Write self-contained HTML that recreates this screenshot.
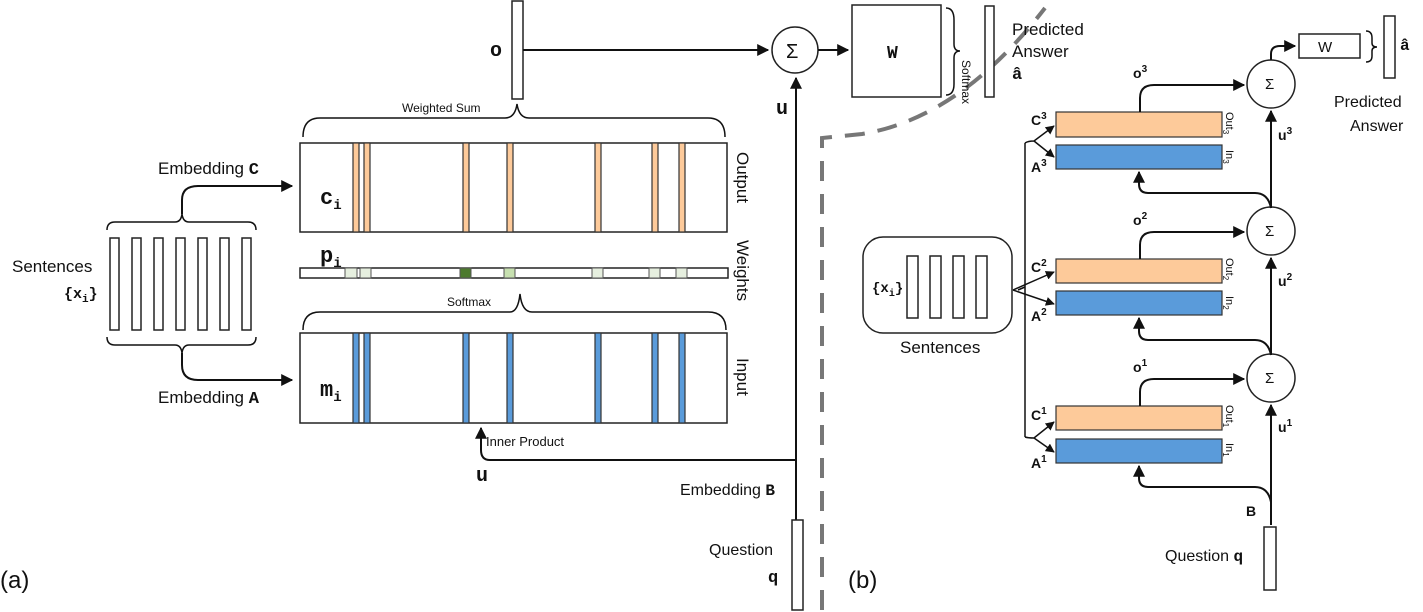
<!DOCTYPE html>
<html><head><meta charset="utf-8"><style>
html,body{margin:0;padding:0;background:#fff;}
svg{display:block;}
text{font-family:"Liberation Sans",sans-serif;fill:#111;}
.m{font-family:"Liberation Mono",monospace;font-weight:bold;}
.s{fill:none;stroke:#111;stroke-width:2;}
.b{fill:#fff;stroke:#222;stroke-width:1.5;}
.or{fill:#FDCA9A;stroke:#333;stroke-width:1.2;}
.bl{fill:#5A9BDA;stroke:#333;stroke-width:1.2;}
</style></head><body>
<svg width="1423" height="612" viewBox="0 0 1423 612" xmlns="http://www.w3.org/2000/svg">
<defs><marker id="ar" viewBox="0 0 10 10" refX="9" refY="5" markerWidth="6" markerHeight="6" orient="auto"><path d="M0,0 L10,5 L0,10 z" fill="#111"/></marker></defs>

<!-- dashed divider -->
<path d="M822,610 L822,138 L862,134 Q960,118 1045,8" fill="none" stroke="#777" stroke-width="4" stroke-dasharray="20,13"/>

<!-- (a) top -->
<rect class="b" x="512" y="1" width="11" height="98"/>
<text x="490" y="56" class="m" font-size="20">o</text>
<line class="s" x1="523" y1="50" x2="768" y2="50" marker-end="url(#ar)"/>
<circle class="b" cx="795" cy="50" r="23"/>
<text x="786" y="58" font-size="20" font-family="Liberation Serif">Σ</text>
<line class="s" x1="818" y1="50" x2="848" y2="50" marker-end="url(#ar)"/>
<rect class="b" x="852" y="5" width="89" height="92"/>
<text x="887" y="58" class="m" font-size="18">W</text>
<path class="s" style="stroke-width:1.5" d="M946,8 Q954,8 954,20 L954,44 Q954,51 960,51 Q954,51 954,58 L954,84 Q954,95 946,95"/>
<text transform="translate(962,60) rotate(90)" font-size="12">Softmax</text>
<rect class="b" x="985" y="6" width="9" height="91"/>
<text x="1012" y="35" font-size="17">Predicted</text>
<text x="1012" y="57" font-size="17">Answer</text>
<text x="1012" y="79" class="m" font-size="17">â</text>
<line class="s" x1="796" y1="610" x2="796" y2="78" marker-end="url(#ar)"/>
<text x="776" y="114" class="m" font-size="20">u</text>

<!-- weighted sum brace -->
<path class="s" style="stroke-width:1.5" d="M303,137 Q303,118 320,118 L505,118 Q515,118 517,104 Q519,118 529,118 L708,118 Q725,118 725,137"/>
<text x="402" y="112" font-size="12">Weighted Sum</text>

<!-- output box -->
<rect class="b" x="300" y="143" width="427" height="89"/>
<g class="or">
<rect x="353" y="143" width="6" height="89"/><rect x="364" y="143" width="6" height="89"/>
<rect x="463" y="143" width="6" height="89"/><rect x="507" y="143" width="6" height="89"/>
<rect x="595" y="143" width="6" height="89"/><rect x="652" y="143" width="6" height="89"/>
<rect x="679" y="143" width="6" height="89"/>
</g>
<text x="320" y="204" class="m" font-size="22">c<tspan font-size="14" dy="5">i</tspan></text>

<!-- weights -->
<rect class="b" x="300" y="268" width="428" height="10"/>
<g stroke="#555" stroke-width="1">
<rect x="345" y="268" width="12" height="10" fill="#e6efdf"/><rect x="360" y="268" width="11" height="10" fill="#e6efdf"/>
<rect x="460" y="268" width="11" height="10" fill="#4d7a2e"/><rect x="504" y="268" width="11" height="10" fill="#c7e0b0"/>
<rect x="592" y="268" width="11" height="10" fill="#e6efdf"/><rect x="649" y="268" width="11" height="10" fill="#e6efdf"/>
<rect x="676" y="268" width="11" height="10" fill="#e6efdf"/>
</g>
<text x="320" y="262" class="m" font-size="22">p<tspan font-size="14" dy="5">i</tspan></text>

<!-- softmax brace -->
<path class="s" style="stroke-width:1.5" d="M303,330 Q303,312 320,312 L510,312 Q518,312 520,294 Q522,312 532,312 L708,312 Q726,312 726,330"/>
<text x="447" y="306" font-size="12">Softmax</text>

<!-- input box -->
<rect class="b" x="300" y="333" width="427" height="90"/>
<g class="bl">
<rect x="353" y="333" width="6" height="90"/><rect x="364" y="333" width="6" height="90"/>
<rect x="463" y="333" width="6" height="90"/><rect x="507" y="333" width="6" height="90"/>
<rect x="595" y="333" width="6" height="90"/><rect x="652" y="333" width="6" height="90"/>
<rect x="679" y="333" width="6" height="90"/>
</g>
<text x="320" y="396" class="m" font-size="22">m<tspan font-size="14" dy="5">i</tspan></text>

<text transform="translate(737,152) rotate(90)" font-size="17">Output</text>
<text transform="translate(737,240) rotate(90)" font-size="17">Weights</text>
<text transform="translate(737,358) rotate(90)" font-size="17">Input</text>

<!-- inner product -->
<path class="s" d="M796,460 L490,460 Q481,460 481,450 L481,428" marker-end="url(#ar)"/>
<text x="486" y="446" font-size="13">Inner Product</text>
<text x="476" y="481" class="m" font-size="20">u</text>
<text x="680" y="495" font-size="16">Embedding <tspan class="m">B</tspan></text>
<rect class="b" x="792" y="520" width="11" height="90"/>
<text x="709" y="555" font-size="16">Question</text>
<text x="768" y="582" class="m" font-size="17">q</text>

<!-- sentences (a) -->
<g class="b">
<rect x="110" y="238" width="9" height="92"/><rect x="132" y="238" width="9" height="92"/>
<rect x="154" y="238" width="9" height="92"/><rect x="176" y="238" width="9" height="92"/>
<rect x="198" y="238" width="9" height="92"/><rect x="220" y="238" width="9" height="92"/>
<rect x="242" y="238" width="9" height="92"/>
</g>
<text x="12" y="272" font-size="17">Sentences</text>
<text x="64" y="298" class="m" font-size="15">{x<tspan font-size="11" dy="4">i</tspan><tspan dy="-4">}</tspan></text>
<path class="s" style="stroke-width:1.5" d="M107,230 Q107,222 115,222 L175,222 Q181,222 182,214 Q183,222 189,222 L248,222 Q256,222 256,230"/>
<path class="s" d="M182,214 L182,200 Q182,186 198,186 L292,186" marker-end="url(#ar)"/>
<text x="158" y="174" font-size="17">Embedding <tspan class="m">C</tspan></text>
<path class="s" style="stroke-width:1.5" d="M107,337 Q107,345 115,345 L175,345 Q181,345 182,353 Q183,345 189,345 L248,345 Q256,345 256,337"/>
<path class="s" d="M182,353 L182,365 Q182,380 198,380 L292,380" marker-end="url(#ar)"/>
<text x="158" y="403" font-size="17">Embedding <tspan class="m">A</tspan></text>

<text x="0" y="588" font-size="24">(a)</text>
<text x="848" y="588" font-size="24">(b)</text>

<!-- (b) -->
<rect x="863" y="237" width="149" height="96" rx="20" fill="#fff" stroke="#222" stroke-width="1.5"/>
<text x="872" y="292" class="m" font-size="14">{x<tspan font-size="10" dy="4">i</tspan><tspan dy="-4">}</tspan></text>
<g class="b">
<rect x="907" y="256" width="11" height="62"/><rect x="930" y="256" width="11" height="62"/>
<rect x="953" y="256" width="11" height="62"/><rect x="976" y="256" width="11" height="62"/>
</g>
<text x="900" y="353" font-size="17">Sentences</text>

<!-- trunk lines -->
<path class="s" style="stroke-width:1.5" d="M1025,143 L1025,437"/>
<path class="s" style="stroke-width:1.5" d="M1018,290 L1025,287"/>
<!-- layer forks -->
<g class="s" style="stroke-width:1.5">
<path d="M1025,143 Q1028,141 1034,141 L1054,126" marker-end="url(#ar)"/><path d="M1034,141 L1054,157" marker-end="url(#ar)"/>
<path d="M1013,290 L1054,272" marker-end="url(#ar)"/><path d="M1013,290 L1054,304" marker-end="url(#ar)"/>
<path d="M1025,437 Q1028,438 1034,438 L1054,422" marker-end="url(#ar)"/><path d="M1034,438 L1054,452" marker-end="url(#ar)"/>
</g>

<rect class="or" x="1056" y="112" width="166" height="25"/>
<rect class="bl" x="1056" y="145" width="166" height="24"/>
<rect class="or" x="1056" y="259" width="166" height="24"/>
<rect class="bl" x="1056" y="291" width="166" height="24"/>
<rect class="or" x="1056" y="406" width="166" height="24"/>
<rect class="bl" x="1056" y="439" width="166" height="24"/>

<g font-size="11">
<text transform="translate(1226,112) rotate(90)">Out<tspan font-size="8" dy="3">3</tspan></text>
<text transform="translate(1226,150) rotate(90)">In<tspan font-size="8" dy="3">3</tspan></text>
<text transform="translate(1226,258) rotate(90)">Out<tspan font-size="8" dy="3">2</tspan></text>
<text transform="translate(1226,296) rotate(90)">In<tspan font-size="8" dy="3">2</tspan></text>
<text transform="translate(1226,405) rotate(90)">Out<tspan font-size="8" dy="3">1</tspan></text>
<text transform="translate(1226,443) rotate(90)">In<tspan font-size="8" dy="3">1</tspan></text>
</g>
<g class="m" font-size="14">
<text x="1031" y="125">C<tspan font-size="10" dy="-6">3</tspan></text>
<text x="1031" y="172">A<tspan font-size="10" dy="-6">3</tspan></text>
<text x="1031" y="272">C<tspan font-size="10" dy="-6">2</tspan></text>
<text x="1031" y="321">A<tspan font-size="10" dy="-6">2</tspan></text>
<text x="1031" y="420">C<tspan font-size="10" dy="-6">1</tspan></text>
<text x="1031" y="468">A<tspan font-size="10" dy="-6">1</tspan></text>
<text x="1133" y="78">o<tspan font-size="10" dy="-6">3</tspan></text>
<text x="1133" y="225">o<tspan font-size="10" dy="-6">2</tspan></text>
<text x="1133" y="372">o<tspan font-size="10" dy="-6">1</tspan></text>
<text x="1278" y="140">u<tspan font-size="10" dy="-6">3</tspan></text>
<text x="1278" y="286">u<tspan font-size="10" dy="-6">2</tspan></text>
<text x="1278" y="432">u<tspan font-size="10" dy="-6">1</tspan></text>
<text x="1246" y="516">B</text>
</g>

<!-- o arrows -->
<g class="s">
<path d="M1140,112 L1140,98 Q1140,85 1154,85 L1244,85" marker-end="url(#ar)"/>
<path d="M1140,259 L1140,245 Q1140,232 1154,232 L1244,232" marker-end="url(#ar)"/>
<path d="M1140,406 L1140,392 Q1140,379 1154,379 L1244,379" marker-end="url(#ar)"/>
</g>
<g class="b">
<circle cx="1271" cy="84" r="24"/><circle cx="1271" cy="231" r="24"/><circle cx="1271" cy="378" r="24"/>
</g>
<g font-family="Liberation Serif" font-size="15"><text x="1265" y="89">Σ</text><text x="1265" y="236">Σ</text><text x="1265" y="383">Σ</text></g>
<!-- u vertical -->
<g class="s">
<line x1="1271" y1="525" x2="1271" y2="405" marker-end="url(#ar)"/>
<line x1="1271" y1="355" x2="1271" y2="258" marker-end="url(#ar)"/>
<line x1="1271" y1="208" x2="1271" y2="111" marker-end="url(#ar)"/>
<path d="M1271,502 Q1268,487 1255,487 L1148,487 Q1139,487 1139,478 L1139,466" marker-end="url(#ar)"/>
<path d="M1271,355 Q1268,340 1255,340 L1148,340 Q1139,340 1139,331 L1139,318" marker-end="url(#ar)"/>
<path d="M1271,208 Q1268,193 1255,193 L1148,193 Q1139,193 1139,184 L1139,172" marker-end="url(#ar)"/>
<path d="M1271,60 L1271,54 Q1271,46 1280,46 L1295,46" marker-end="url(#ar)"/>
</g>
<rect class="b" x="1299" y="34" width="61" height="24"/>
<text x="1318" y="52" font-size="15">W</text>
<path class="s" style="stroke-width:1.5" d="M1366,31 Q1372,31 1372,38 L1372,43 Q1372,47 1377,47 Q1372,47 1372,51 L1372,56 Q1372,62 1366,62"/>
<rect class="b" x="1384" y="16" width="11" height="62"/>
<text x="1400" y="50" class="m" font-size="16">â</text>
<text x="1334" y="107" font-size="16">Predicted</text>
<text x="1350" y="131" font-size="16">Answer</text>
<rect class="b" x="1264" y="527" width="12" height="63"/>
<text x="1165" y="561" font-size="16">Question <tspan class="m">q</tspan></text>
</svg>
</body></html>
